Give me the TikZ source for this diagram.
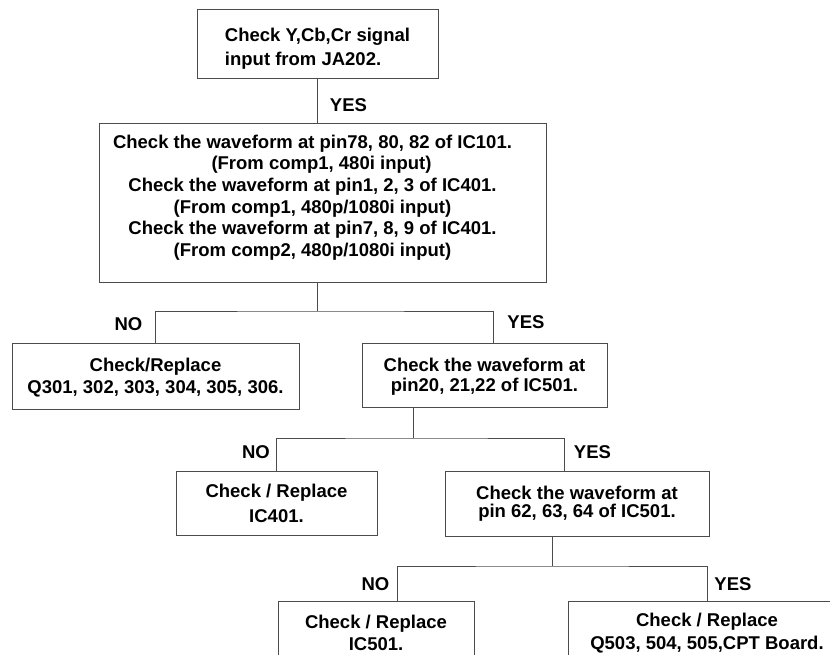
\documentclass[tikz,border=0pt]{standalone}
\usepackage{fontspec}
\setmainfont{Liberation Sans}
\newcommand{\padR}[1]{\rule{#1}{0pt}}
\begin{document}
\begin{tikzpicture}[x=1pt,y=-1pt,
  box/.style={draw=black!70, line width=0.9pt, inner sep=0pt, align=center},
  lbl/.style={inner sep=0pt, font=\bfseries\fontsize{18.5}{22}\selectfont},
  conn/.style={draw=black!70, line width=0.9pt}]
\clip (0,0) rectangle (830,655);
% boxes
\node[box, minimum width=241, minimum height=69, align=left,
      font=\bfseries\fontsize{18.5}{24}\selectfont] (b1) at (317.5,43.5)
  {\rule{0pt}{24pt}Check Y,Cb,Cr signal\\input from JA202.};
\node[box, minimum width=447, minimum height=159,
      font=\bfseries\fontsize{18.5}{21.6}\selectfont] (b2) at (322.5,202.5)
  {Check the waveform at pin78, 80, 82 of IC101.\padR{20pt}\\(From comp1, 480i input)\padR{2pt}\\Check the waveform at pin1, 2, 3 of IC401.\padR{20pt}\\(From comp1, 480p/1080i input)\padR{20pt}\\Check the waveform at pin7, 8, 9 of IC401.\padR{20pt}\\(From comp2, 480p/1080i input)\padR{20pt}\rule[-14pt]{0pt}{14pt}};
\node[box, minimum width=287, minimum height=66,
      font=\bfseries\fontsize{18.5}{22}\selectfont] (b3) at (155.5,376)
  {\rule{0pt}{17pt}Check/Replace\\Q301, 302, 303, 304, 305, 306.};
\node[box, minimum width=245, minimum height=64,
      font=\bfseries\fontsize{18.5}{20}\selectfont] (b4) at (484.5,375)
  {\rule{0pt}{17pt}Check the waveform at\\ pin20, 21,22 of IC501.};
\node[box, minimum width=201, minimum height=64,
      font=\bfseries\fontsize{18.5}{25}\selectfont] (b5) at (276.5,503)
  {Check / Replace\\IC401.};
\node[box, minimum width=264, minimum height=65,
      font=\bfseries\fontsize{18.5}{18.5}\selectfont] (b6) at (577,503.5)
  {Check the waveform at\\pin 62, 63, 64 of IC501.};
\node[box, minimum width=196, minimum height=64,
      font=\bfseries\fontsize{18.5}{22.5}\selectfont] (b7) at (376,633)
  {Check / Replace\\IC501.};
\node[box, minimum width=278, minimum height=64,
      font=\bfseries\fontsize{18.5}{22.5}\selectfont] (b8) at (707,633)
  {Check / Replace\\Q503, 504, 505,CPT Board.};
% junctions
\coordinate (s1) at (317,311);
\coordinate (b4in) at (493,343);
\coordinate (s2) at (413,438);
\coordinate (b6in) at (564,471);
\coordinate (s3) at (552,566);
\coordinate (b7in) at (397,601);
% connectors
\draw[conn] (b1.south) -- (b1.south |- b2.north);
\draw[conn] (b2.south -| s1) -- (s1);
\draw[conn] (b3.north) |- (s1) -| (b4in);
\draw[conn] (b4.south -| s2) -- (s2);
\draw[conn] (b5.north) |- (s2) -| (b6in);
\draw[conn] (b6.south -| s3) -- (s3);
\draw[conn] (b7in) |- (s3) -| (b8.north);
% labels
\node[lbl] (y1) at (348.5,105) {YES};
\node[lbl] (n1) at (128.5,324) {NO};
\node[lbl] (y2) at (526,322) {YES};
\node[lbl] (n2) at (256,452) {NO};
\node[lbl] (y3) at (592.5,452) {YES};
\node[lbl] (n3) at (375.5,584) {NO};
\node[lbl] (y4) at (733,584) {YES};
\end{tikzpicture}
\end{document}
